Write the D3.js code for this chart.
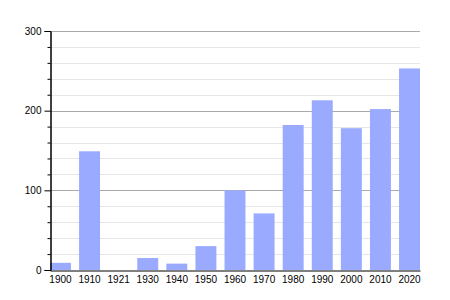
<!DOCTYPE html>
<html lang="en">
<head>
	<meta charset="UTF-8">
	<title>Population</title>
	<script src="https://cdnjs.cloudflare.com/ajax/libs/d3/7.8.5/d3.min.js"></script>
	<style>
		body { margin: 0; background: #fff; }
		svg { display: block; font-family: "Liberation Sans", Arial, sans-serif; }
	</style>
</head>
<body>
	<svg id="viz"></svg>
	<script>
		const years = ['1900', '1910', '1921', '1930', '1940', '1950', '1960', '1970', '1980', '1990', '2000', '2010', '2020'];
		const population = [9, 149, 0, 15, 8, 30, 100, 71, 182, 213, 178, 202, 253];
		const majorTicks = [0, 100, 200, 300];
		const minorTicks = [20, 40, 60, 80, 120, 140, 160, 180, 220, 240, 260, 280];

		const width = 450;
		const height = 300;
		const plotLeft = 50, plotRight = 420, plotTop = 31, plotBottom = 270;

		const svg = d3.select('#viz')
			.attr('width', width)
			.attr('height', height);

		const x = d3.scaleBand()
			.domain(years)
			.range([plotLeft, plotRight])
			.paddingInner(0.28)
			.paddingOuter(0);
		const y = d3.scaleLinear()
			.domain([0, 300])
			.range([plotBottom, plotTop]);

		// grid
		svg.append('g').selectAll('line')
			.data(minorTicks)
			.join('line')
			.attr('x1', plotLeft).attr('x2', plotRight)
			.attr('y1', d => Math.round(y(d)) + 0.5).attr('y2', d => Math.round(y(d)) + 0.5)
			.attr('stroke', '#e6e6e6');
		svg.append('g').selectAll('line')
			.data(majorTicks.filter(d => d > 0))
			.join('line')
			.attr('x1', plotLeft).attr('x2', plotRight)
			.attr('y1', d => Math.round(y(d)) + 0.5).attr('y2', d => Math.round(y(d)) + 0.5)
			.attr('stroke', '#aaaaaa');

		// bars
		svg.append('g').selectAll('rect')
			.data(years)
			.join('rect')
			.attr('x', d => x(d))
			.attr('width', x.bandwidth())
			.attr('y', (d, i) => y(population[i]))
			.attr('height', (d, i) => plotBottom - y(population[i]))
			.attr('fill', '#99aaff');

		// y axis
		const yAxis = svg.append('g')
			.attr('transform', `translate(${plotLeft + 0.5},0)`);
		yAxis.call(d3.axisLeft(y).tickValues(minorTicks).tickSize(3).tickFormat(''));
		yAxis.append('g').call(d3.axisLeft(y).tickValues(majorTicks).tickSize(6).tickPadding(3));
		yAxis.selectAll('.domain').attr('stroke', '#000');
		yAxis.selectAll('text').attr('font-size', 10).attr('fill', '#000').attr('font-family', null);

		// x axis
		const xAxis = svg.append('g')
			.attr('transform', `translate(0,${plotBottom + 0.5})`)
			.call(d3.axisBottom(x).tickSize(0).tickPadding(5).tickSizeOuter(0));
		xAxis.select('.domain').attr('stroke', '#000');
		xAxis.selectAll('text').attr('font-size', 10).attr('fill', '#000').attr('font-family', null);
	</script>
</body>
</html>
